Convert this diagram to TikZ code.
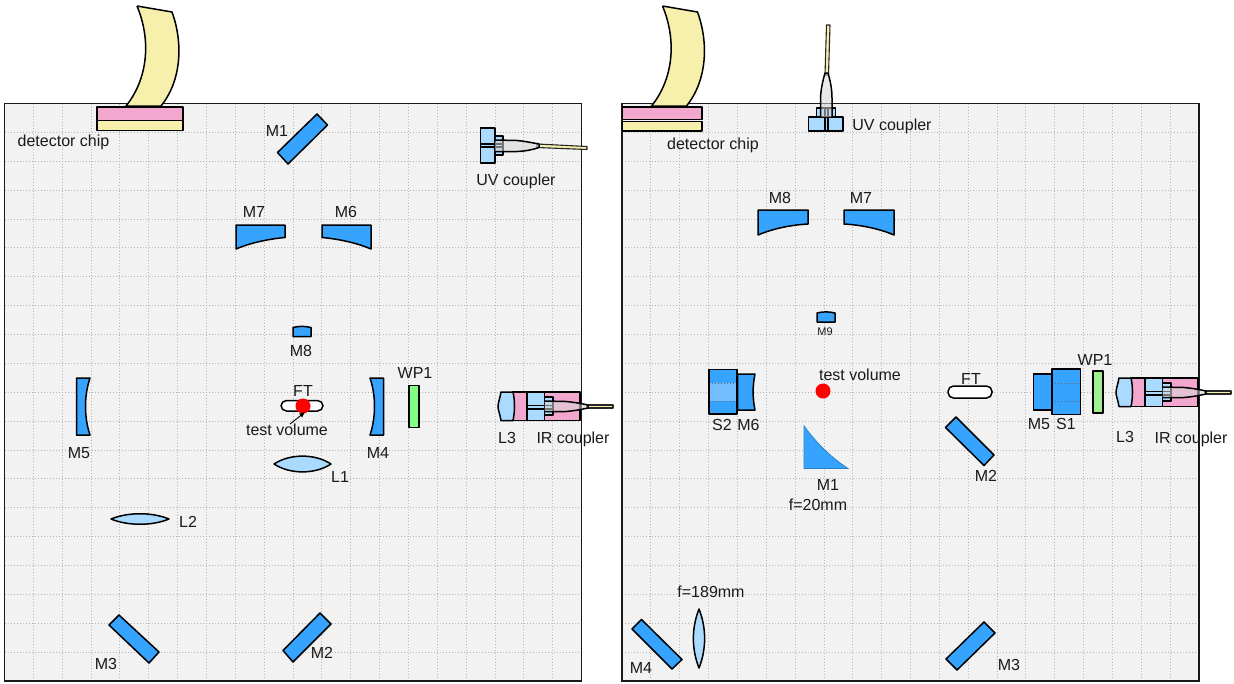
\documentclass[tikz,border=0pt]{standalone}
\usepackage{fontspec}
\setmainfont{Liberation Sans}
\usetikzlibrary{arrows.meta,calc}
\definecolor{mblue}{HTML}{36A3FF}
\definecolor{lblue}{HTML}{ABDAFF}
\definecolor{lpink}{HTML}{F2A8CE}
\definecolor{lyellow}{HTML}{F7EFAC}
\definecolor{panelbg}{HTML}{F2F2F2}
\definecolor{gridc}{HTML}{B5B5B5}
\definecolor{dtext}{HTML}{1A1A1A}
\definecolor{wpgreen}{HTML}{80FF80}
\definecolor{wpgreenb}{HTML}{A0F090}
\definecolor{ferr}{HTML}{D8D8D8}
\tikzset{
  ln/.style={draw=black,line width=1.5pt,line join=round},
  mirror/.style={ln,fill=mblue},
  lens/.style={ln,fill=lblue},
  pinkbox/.style={ln,fill=lpink},
  yelbox/.style={ln,fill=lyellow},
  fiber/.style={draw=black!85,line width=1.1pt,line join=round,fill=lyellow},
  ferrule/.style={ln,fill=ferr,fill opacity=0.55},
  lab/.style={font=\fontsize{16}{18}\selectfont,text=dtext,inner sep=0pt,text height=11.5pt,text depth=0pt},
  smalllab/.style={font=\fontsize{11}{13}\selectfont,text=dtext,inner sep=0pt,text height=8pt,text depth=0pt},
  griddot/.style={draw=gridc,line width=0.9pt,dash pattern=on 1pt off 2pt},
  reddot/.style={circle,fill=red,minimum size=15pt,inner sep=0pt},
  ftube/.style={ln,fill=white,rounded corners=5.5pt}
}
\newcommand{\panel}[1]{%
  \fill[panelbg] (#1,103.5) rectangle ++(577,577.5);
  \foreach \k in {1,...,19}{
    \draw[griddot] ({#1+\k*28.85},103.5) -- ++(0,577.5);
    \draw[griddot] (#1,{103.5+\k*28.875}) -- ++(577,0);
  }
  \draw[line width=1.4pt,draw=black!90] (#1,103.5) rectangle ++(577,577.5);
}
\newcommand{\banana}[1]{%
  \begin{scope}[shift={(#1,0)}]
    \draw[ln,fill=lyellow] (137,6) -- (172,12) .. controls (183,42) and (182,80) .. (161,106) -- (126,106) .. controls (147,80) and (152,42) .. (137,6);
  \end{scope}
}
\newcommand{\ircoupler}[2]{%
  \begin{scope}[shift={(#1,#2)}]
    \draw[pinkbox] (513,392) rectangle (580,420.5);
    \draw[lens] (501,392) -- (513,392) .. controls (515,401) and (515,411) .. (513,420.5) -- (501,420.5) .. controls (500,414) and (498,410) .. (498,406.5) .. controls (498,403) and (500,398) .. (501,392) -- cycle;
    \draw[lens] (527,392) rectangle (544.5,420.5);
    \draw[lens] (544.5,397) rectangle (553,415);
    \draw[ln] (527,405.5) -- (553,405.5) (527,409) -- (553,409);
    \draw[fiber] (587,405) -- (613,405) -- (613,408) -- (587,408) -- cycle;
    \draw[ferrule] (544.5,401) -- (566,401.5) .. controls (577,402.5) and (583,404) .. (588,405) -- (588,408) .. controls (583,409) and (577,410.5) .. (566,411.5) -- (544.5,411.5);
  \end{scope}
}
\begin{document}
\begin{tikzpicture}[x=1pt,y=-1pt]
\useasboundingbox (0,0) rectangle (1234,683);
\fill[white] (0,0) rectangle (1234,683);
\panel{4.5}
\panel{622}
% ---------- left panel
\banana{0}
\draw[pinkbox] (97,107) rectangle (183,120.5);
\draw[yelbox] (97,120.5) rectangle (183,130.5);
\node[lab] (ldet) at (63.5,141) {detector chip};
\draw[mirror] (317,114) -- (327.5,125) -- (288,164) -- (277.5,152.5) -- cycle;
\node[lab] (lm1) at (277,131) {M1};
% UV coupler
\draw[lens] (480.7,128) rectangle (495,163);
\draw[lens] (495,136) rectangle (503,155);
\draw[ln] (480.7,144) -- (503,144) (480.7,147) -- (503,147);
\draw[fiber] (537,144) -- (587,146.5) -- (587,149.5) -- (537,147.5) -- cycle;
\draw[ferrule] (495,140) -- (517,140.5) .. controls (527,141.5) and (533,143) .. (539,144) -- (539,147.5) .. controls (533,149.5) and (527,151) .. (517,151.5) -- (495,151.5);
\node[lab] (luv) at (516,179.5) {UV coupler};
% M7 M6
\draw[mirror] (236,225) -- (285,225) -- (285,237.5) .. controls (268,239) and (250,243) .. (236,249) -- cycle;
\draw[mirror] (322,225) -- (371,225) -- (371,249) .. controls (357,243) and (339,239) .. (322,237.5) -- cycle;
\node[lab] (lm7) at (254,212) {M7};
\node[lab] (lm6) at (346,212) {M6};
% M8
\draw[mirror] (293,327.5) .. controls (299,326) and (305,326) .. (311,327.5) -- (311,336.5) -- (293,336.5) -- cycle;
\node[lab] (lm8) at (301,351) {M8};
% FT
\draw[ftube] (281,400.5) rectangle (323,411);
\node[lab] (lft) at (303,391) {FT};
\node[reddot] (ldot) at (303,406) {};
\node[lab] (ltv) at (287,430) {test volume};
\draw[-{Latex[length=6pt,width=5pt]},line width=0.9pt,shorten >=-3pt] ([xshift=3pt]ltv.north) -- (ldot.south);
% M4
\draw[mirror] (370,378) -- (383.5,378) -- (383.5,435) -- (370,435) .. controls (376,417) and (376,396) .. (370,378) -- cycle;
\node[lab] (lm4) at (378,453) {M4};
% WP1
\draw[ln,fill=wpgreen] (409,385.5) rectangle (419,427.5);
\node[lab] (lwp) at (415,373) {WP1};
% L1, L2
\draw[lens] (274,464) .. controls (290,453.5) and (315,453.5) .. (331,464) .. controls (315,474.5) and (290,474.5) .. (274,464) -- cycle;
\node[lab] (ll1) at (340,477) {L1};
\draw[lens] (111,519) .. controls (128,512) and (152,512) .. (169,519) .. controls (152,526) and (128,526) .. (111,519) -- cycle;
\node[lab] (ll2) at (188,522) {L2};
% M5
\draw[mirror] (76.5,378) -- (90,378) .. controls (84,396) and (84,417) .. (90,435) -- (76.5,435) -- cycle;
\node[lab] (lm5) at (79,453) {M5};
% M3 M2
\draw[mirror] (119,615) -- (159,652) -- (149,663) -- (109,625) -- cycle;
\node[lab] (lm3) at (106,664) {M3};
\draw[mirror] (320,613) -- (331,624) -- (293,662) -- (283,650.5) -- cycle;
\node[lab] (lm2) at (322,653) {M2};
% IR coupler
\ircoupler{0}{0}
\node[lab] (ll3) at (507,438) {L3};
\node[lab] (lir) at (573,438) {IR coupler};
% ---------- right panel
\banana{525.5}
\draw[pinkbox] (622.5,107) rectangle (702,119.5);
\draw[yelbox] (622.5,121.5) rectangle (702,131);
\node[lab] (rdet) at (713,143.5) {detector chip};
% UV coupler vertical
\draw[fiber] (825,75) -- (826.5,25) -- (830,25) -- (828.5,75) -- cycle;
\draw[lens] (816.5,108) rectangle (835.5,117);
\draw[lens] (808.5,117) rectangle (843,131);
\draw[ln] (825,108) -- (825,131) (828,108) -- (828,131);
\draw[ferrule] (820.5,117) -- (820.5,98) .. controls (821,88) and (823,80) .. (825,73) -- (828,73) .. controls (830,80) and (832,88) .. (832,98) -- (832,117);
\node[lab] (ruv) at (892,125) {UV coupler};
% M8 M7
\draw[mirror] (758,210) -- (808,210) -- (808,224) .. controls (790,225) and (772,229) .. (758,235) -- cycle;
\draw[mirror] (844,210) -- (894,210) -- (894,235) .. controls (880,229) and (862,225) .. (844,224) -- cycle;
\node[lab] (rm8) at (780,198) {M8};
\node[lab] (rm7) at (861,198) {M7};
% M9
\draw[mirror] (817,313) .. controls (823,311.5) and (829,311.5) .. (835,313) -- (835,322) -- (817,322) -- cycle;
\node[smalllab] (rm9) at (825,331) {M9};
% test volume
\node[lab] (rtv) at (860,374.5) {test volume};
\node[reddot] (rdot) at (823,391) {};
% S2 M6
\fill[mblue] (709,369.5) rectangle (737,414);
\fill[mblue!70!white] (709,383) rectangle (737,401);
\draw[griddot,draw=black!60] (709,383) -- (737,383) (709,401) -- (737,401);
\draw[ln] (709,369.5) rectangle (737,414);
\draw[mirror] (737.5,374) -- (755,374) .. controls (752.5,386) and (752.5,398) .. (755,410) -- (737.5,410) -- cycle;
\node[lab] (rs2) at (722,425) {S2};
\node[lab] (rm6) at (748.5,425) {M6};
% M1
\draw[draw=mblue!80!black,line width=0.8pt,fill=mblue] (804,426) .. controls (818,445) and (832,458) .. (848,468.5) -- (804,468.5) -- cycle;
\node[lab] (rm1) at (828,484.5) {M1};
\node[lab] (rf20) at (818,504.5) {f=20mm};
% FT
\draw[ftube] (948,386) rectangle (992,398);
\node[lab] (rft) at (971,379) {FT};
% M2
\draw[mirror] (956,417) -- (994,455) -- (984,465.5) -- (945.5,427.5) -- cycle;
\node[lab] (rm2) at (986,475.5) {M2};
% M5 S1 WP1
\draw[mirror] (1033.5,374) -- (1052,374) -- (1052,410) -- (1033.5,410) -- cycle;
\fill[mblue] (1052,369) rectangle (1080.5,414.5);
\draw[griddot,draw=black!60] (1052,383) -- (1080.5,383) (1052,401) -- (1080.5,401);
\draw[ln] (1052,369) rectangle (1080.5,414.5);
\node[lab] (rm5) at (1039,424) {M5};
\node[lab] (rs1) at (1066,424) {S1};
\draw[ln,fill=wpgreenb] (1093,371) rectangle (1103,413);
\node[lab] (rwp) at (1095,359.5) {WP1};
\ircoupler{618}{-14}
\node[lab] (rl3) at (1125,437) {L3};
\node[lab] (rir) at (1191,437.5) {IR coupler};
% M4 lens
\draw[mirror] (641.5,619.5) -- (682,659.5) -- (672,669) -- (632,629) -- cycle;
\node[lab] (rm4) at (641,668) {M4};
\draw[lens] (699,609) .. controls (706.5,628) and (706.5,649) .. (699,668) .. controls (691.5,649) and (691.5,628) .. (699,609) -- cycle;
\node[lab] (rf189) at (711,591.5) {f=189mm};
% M3
\draw[mirror] (984,622) -- (995,633) -- (957,670) -- (946,659) -- cycle;
\node[lab] (rm3) at (1009,665) {M3};
\end{tikzpicture}
\end{document}
